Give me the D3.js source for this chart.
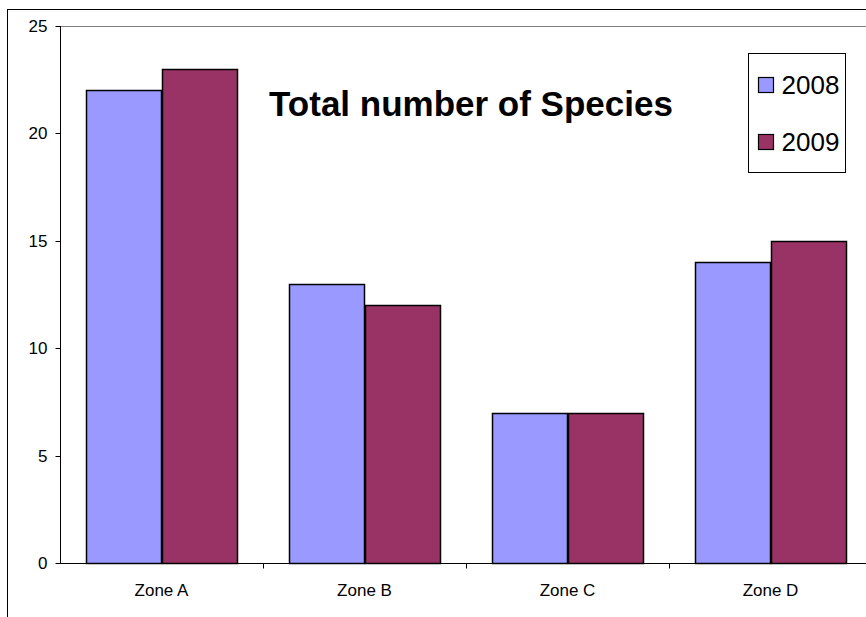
<!DOCTYPE html>
<html>
<head>
<meta charset="utf-8">
<script src="https://cdn.jsdelivr.net/npm/d3@7"></script>
<style>
  html, body { margin: 0; padding: 0; background: #fff; }
  svg { display: block; font-family: Arial, "Liberation Sans", sans-serif; }
</style>
</head>
<body>
<svg id="chart" width="866" height="617"></svg>
<script>
const categories = ["Zone A", "Zone B", "Zone C", "Zone D"];
const seriesNames = ["2008", "2009"];
const values2008 = [22, 13, 7, 14];
const values2009 = [23, 12, 7, 15];
const yTicks = [0, 5, 10, 15, 20, 25];
const colors = ["#9999FF", "#993366"];
const titleText = "Total number of Species";

const svg = d3.select("#chart");

// outer chart border (extends past the window)
svg.append("rect")
  .attr("x", 7.5).attr("y", 9.5)
  .attr("width", 900).attr("height", 700)
  .attr("fill", "#fff").attr("stroke", "#000").attr("stroke-width", 1);

const plot = { left: 60, top: 26, right: 872, bottom: 563 };

const x = d3.scaleBand().domain(categories).range([plot.left, plot.right]).padding(0);
const y = d3.scaleLinear().domain([0, 25]).range([plot.bottom, plot.top]);

// plot area border
svg.append("rect")
  .attr("x", plot.left + 0.5).attr("y", plot.top + 0.5)
  .attr("width", plot.right - plot.left).attr("height", plot.bottom - plot.top)
  .attr("fill", "#fff").attr("stroke", "#808080").attr("stroke-width", 1);

// bars
const barW = x.bandwidth() * 0.37;
const series = [values2008, values2009];
series.forEach((vals, si) => {
  svg.append("g").selectAll("rect")
    .data(categories.map((c, i) => ({ c, v: vals[i] })))
    .join("rect")
    .attr("x", d => Math.round(x(d.c) + (x.bandwidth() - 2 * barW) / 2 + si * barW) + 0.5)
    .attr("y", d => Math.round(y(d.v)) + 0.5)
    .attr("width", Math.round(barW))
    .attr("height", d => Math.round(y(0)) - Math.round(y(d.v)))
    .attr("fill", colors[si])
    .attr("stroke", "#000")
    .attr("stroke-width", 1.5);
});

// y axis
const yAxis = d3.axisLeft(y).tickValues(yTicks).tickSize(5).tickPadding(8).tickFormat(d3.format("d"));
const gy = svg.append("g").attr("transform", `translate(${plot.left + 0.5},0)`).call(yAxis);
gy.select(".domain").attr("stroke", "#000").attr("d", `M0,${plot.top}V${plot.bottom}`);
gy.selectAll(".tick line").attr("stroke", "#000");
gy.selectAll(".tick text").attr("font-size", 17).attr("font-family", "Arial, 'Liberation Sans', sans-serif").attr("fill", "#000");
gy.selectAll(".tick").attr("transform", d => `translate(0,${Math.round(y(d)) + 0.5})`);

// x axis
const xAxis = d3.axisBottom(x).tickSize(0).tickPadding(20);
const gx = svg.append("g").attr("transform", `translate(0,${plot.bottom + 0.5})`).call(xAxis);
gx.select(".domain").attr("stroke", "#000").attr("d", `M${plot.left},0H${plot.right}`);
gx.selectAll(".tick text").attr("font-size", 17).attr("font-family", "Arial, 'Liberation Sans', sans-serif").attr("fill", "#000");
// category boundary ticks
gx.append("g").selectAll("line")
  .data(categories.slice(1))
  .join("line")
  .attr("x1", d => Math.round(x(d)) + 0.5).attr("x2", d => Math.round(x(d)) + 0.5)
  .attr("y1", 0).attr("y2", 5)
  .attr("stroke", "#000");

// title
svg.append("text")
  .attr("x", 471).attr("y", 116)
  .attr("text-anchor", "middle")
  .attr("font-size", 35).attr("font-weight", "bold")
  .attr("fill", "#000")
  .text(titleText);

// legend
const leg = svg.append("g").attr("transform", "translate(748.5,53.5)");
leg.append("rect").attr("width", 97).attr("height", 119)
  .attr("fill", "#fff").attr("stroke", "#000");
seriesNames.forEach((s, i) => {
  const gy2 = 24 + i * 57;
  leg.append("rect").attr("x", 10).attr("y", gy2).attr("width", 15).attr("height", 15)
    .attr("fill", colors[i]).attr("stroke", "#000").attr("stroke-width", 1.2);
  leg.append("text").attr("x", 33).attr("y", gy2 + 16)
    .attr("font-size", 26).attr("fill", "#000").text(s);
});
</script>
</body>
</html>
